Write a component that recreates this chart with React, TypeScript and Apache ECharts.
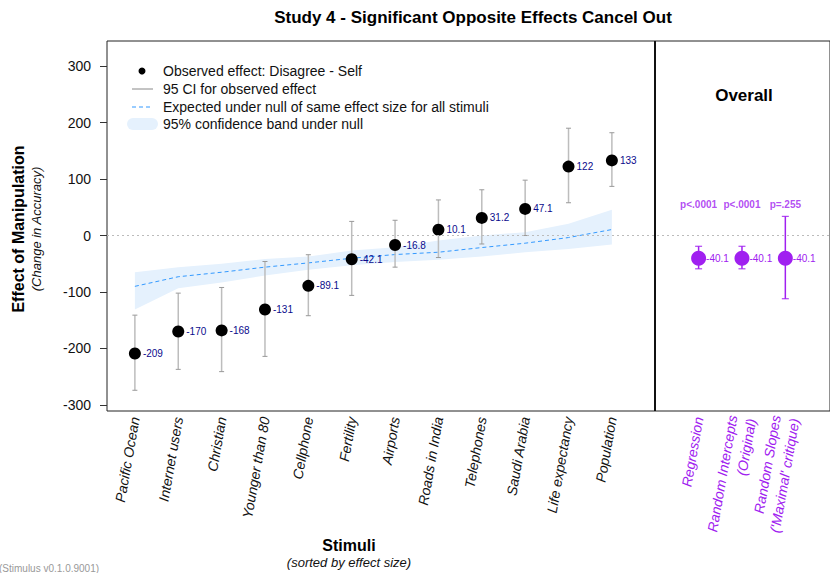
import React, { useEffect, useRef } from "react";
import * as echarts from "echarts";

const stimuli = ["Pacific Ocean", "Internet users", "Christian", "Younger than 80", "Cellphone", "Fertility", "Airports", "Roads in India", "Telephones", "Saudi Arabia", "Life expectancy", "Population"];
const stimulusX = [1, 2, 3, 4, 5, 6, 7, 8, 9, 10, 11, 12];
const effects = [-209, -170, -168, -131, -89.1, -42.1, -16.8, 10.1, 31.2, 47.1, 122, 133];
const ciLow = [-274, -237, -241, -214, -142, -106, -56, -39, -15, 0, 58, 87];
const ciHigh = [-141, -102, -92, -46, -34, 25, 27, 63, 81, 98, 190, 182];
const nullExpected = [-90, -73, -65, -56, -48.5, -40.2, -33.7, -29.6, -21.3, -13.6, -3.6, 10.6];
const bandLow = [-131, -93.5, -83, -71, -60.4, -52.7, -46.7, -43, -37.3, -29.6, -23.7, -16];
const bandHigh = [-65, -56, -50, -41.4, -37.3, -26.6, -20.7, -8.9, 0, 6, 20.7, 45.6];

const overallModels = ["Regression", "Random Intercepts\n(Original)", "Random Slopes\n('Maximal' critique)"];
const overallX = [14, 15, 16];
const overallEffect = [-40.1, -40.1, -40.1];
const overallLow = [-59, -59, -112];
const overallHigh = [-19, -19, 34];
const pLabels = ["p<.0001", "p<.0001", "p=.255"];
const pLabelY = 54.5;

const yTicks = [-300, -200, -100, 0, 100, 200, 300];

const PURPLE = "#A020F0";
const FONT = "'Liberation Sans', Arial, Helvetica, sans-serif";

export default function App() {
  const ref = useRef<HTMLDivElement>(null);
  useEffect(() => {
    document.body.style.margin = "0";
    const chart = echarts.init(ref.current!, null, { renderer: "svg" });
    const labelMap: Record<number, string> = {};
    stimulusX.forEach((x, i) => (labelMap[x] = stimuli[i]));
    overallX.forEach((x, i) => (labelMap[x] = overallModels[i]));

    const errorBar = (stroke: string, lw: number, capStroke: string, cap: number) =>
      (params: any, api: any) => {
        const x = api.value(0);
        const lo = api.coord([x, api.value(1)]);
        const hi = api.coord([x, api.value(2)]);
        return {
          type: "group",
          children: [
            { type: "line", shape: { x1: lo[0], y1: lo[1], x2: hi[0], y2: hi[1] }, style: { stroke, lineWidth: lw } },
            { type: "line", shape: { x1: lo[0] - cap, y1: lo[1], x2: lo[0] + cap, y2: lo[1] }, style: { stroke: capStroke, lineWidth: 1 } },
            { type: "line", shape: { x1: hi[0] - cap, y1: hi[1], x2: hi[0] + cap, y2: hi[1] }, style: { stroke: capStroke, lineWidth: 1 } },
          ],
        };
      };

    const txt = (x: number, y: number, text: string, font: string, fill: string, align = "center", rotation = 0) => ({
      type: "text",
      x,
      y,
      rotation,
      style: { text, font, fill, align, verticalAlign: "middle", textAlign: align, textVerticalAlign: "middle" },
    });

    const option: any = {
      animation: false,
      textStyle: { fontFamily: FONT },
      grid: { left: 107, top: 41, right: -3, bottom: 162, show: true, borderColor: "#222", borderWidth: 1 },
      xAxis: {
        type: "value",
        min: 0.357,
        max: 17.03,
        splitLine: { show: false },
        axisLine: { show: false },
        axisTick: { show: false },
        axisLabel: {
          customValues: [...stimulusX, ...overallX],
          formatter: (v: number) => labelMap[Math.round(v)] || "",
          rotate: 80,
          margin: 6,
          fontSize: 14,
          lineHeight: 19,
          fontStyle: "italic",
          color: (v: any) => (Number(v) > 13 ? PURPLE : "#111"),
        },
      },
      yAxis: {
        type: "value",
        min: -310.7,
        max: 344.4,
        splitLine: { show: false },
        axisLine: { show: false },
        axisTick: { show: true, length: 7, customValues: yTicks, lineStyle: { color: "#333" } },
        axisLabel: { customValues: yTicks, fontSize: 14, color: "#111", margin: 16 },
      },
      series: [
        {
          type: "custom",
          name: "band",
          z: 1,
          data: stimulusX.map((x, i) => [x, bandLow[i], bandHigh[i]]),
          encode: { x: 0, y: [1, 2] },
          renderItem: (params: any, api: any) => {
            if (params.dataIndex !== 0) return { type: "group", children: [] };
            const top = stimulusX.map((x, i) => api.coord([x, bandHigh[i]]));
            const bot = stimulusX.map((x, i) => api.coord([x, bandLow[i]])).reverse();
            return { type: "polygon", shape: { points: [...top, ...bot] }, style: { fill: "#E5F1FD" } };
          },
          markLine: {
            silent: true,
            symbol: "none",
            label: { show: false },
            data: [
              { yAxis: 0, lineStyle: { color: "#bbbbbb", type: [2, 3], width: 1 } },
              { xAxis: 13, lineStyle: { color: "#111", type: "solid", width: 2 } },
            ],
          },
        },
        {
          type: "line",
          z: 2,
          data: stimulusX.map((x, i) => [x, nullExpected[i]]),
          symbol: "none",
          lineStyle: { color: "#3399FF", width: 1, type: [4, 3] },
        },
        {
          type: "custom",
          z: 3,
          data: stimulusX.map((x, i) => [x, ciLow[i], ciHigh[i]]),
          encode: { x: 0, y: [1, 2] },
          renderItem: errorBar("#BDBDBD", 1.5, "#999", 2.5),
        },
        {
          type: "custom",
          z: 3,
          data: overallX.map((x, i) => [x, overallLow[i], overallHigh[i]]),
          encode: { x: 0, y: [1, 2] },
          renderItem: errorBar(PURPLE, 1.5, PURPLE, 3.5),
        },
        {
          type: "scatter",
          z: 4,
          data: stimulusX.map((x, i) => [x, effects[i]]),
          symbolSize: 12,
          itemStyle: { color: "#000", opacity: 1 },
          label: {
            show: true,
            position: "right",
            distance: 2,
            fontSize: 10,
            color: "#0A0A8C",
            formatter: (p: any) => String(p.value[1]),
          },
        },
        {
          type: "scatter",
          z: 4,
          data: overallX.map((x, i) => [x, overallEffect[i]]),
          symbolSize: 15,
          itemStyle: { color: PURPLE, opacity: 1 },
          label: {
            show: true,
            position: "right",
            distance: 0,
            fontSize: 10,
            color: PURPLE,
            formatter: (p: any) => String(p.value[1]),
          },
        },
        {
          type: "scatter",
          z: 4,
          data: overallX.map((x) => [x, pLabelY]),
          symbolSize: 0,
          label: {
            show: true,
            position: "inside",
            fontSize: 10,
            fontWeight: "bold",
            color: PURPLE,
            formatter: (p: any) => pLabels[p.dataIndex],
          },
        },
      ],
      graphic: [
        txt(473, 17, "Study 4 - Significant Opposite Effects Cancel Out", `bold 17px ${FONT}`, "#000"),
        txt(744, 95, "Overall", `bold 17px ${FONT}`, "#000"),
        txt(18, 229, "Effect of Manipulation", `bold 16px ${FONT}`, "#000", "center", Math.PI / 2),
        txt(36, 229, "(Change in Accuracy)", `italic 13px ${FONT}`, "#111", "center", Math.PI / 2),
        txt(349, 545, "Stimuli", `bold 16px ${FONT}`, "#000"),
        txt(349, 562, "(sorted by effect size)", `italic 13px ${FONT}`, "#111"),
        txt(-1, 568, "(Stimulus v0.1.0.9001)", `10px ${FONT}`, "#999", "left"),
        { type: "circle", shape: { cx: 142, cy: 71, r: 3.5 }, style: { fill: "#000" } },
        { type: "line", shape: { x1: 132, y1: 89, x2: 153, y2: 89 }, style: { stroke: "#888", lineWidth: 1 } },
        { type: "line", shape: { x1: 132, y1: 107, x2: 153, y2: 107 }, style: { stroke: "#3399FF", lineWidth: 1, lineDash: [4, 3] } },
        { type: "rect", shape: { x: 127, y: 118, width: 31, height: 12, r: 6 }, style: { fill: "#E5F1FD" } },
        txt(163, 71, "Observed effect: Disagree - Self", `14px ${FONT}`, "#111", "left"),
        txt(163, 89, "95 CI for observed effect", `14px ${FONT}`, "#111", "left"),
        txt(163, 107, "Expected under null of same effect size for all stimuli", `14px ${FONT}`, "#111", "left"),
        txt(163, 124, "95% confidence band under null", `14px ${FONT}`, "#111", "left"),
      ],
    };
    chart.setOption(option);
    return () => chart.dispose();
  }, []);
  return <div ref={ref} style={{ width: 830, height: 573, position: "absolute", left: 0, top: 0 }} />;
}
